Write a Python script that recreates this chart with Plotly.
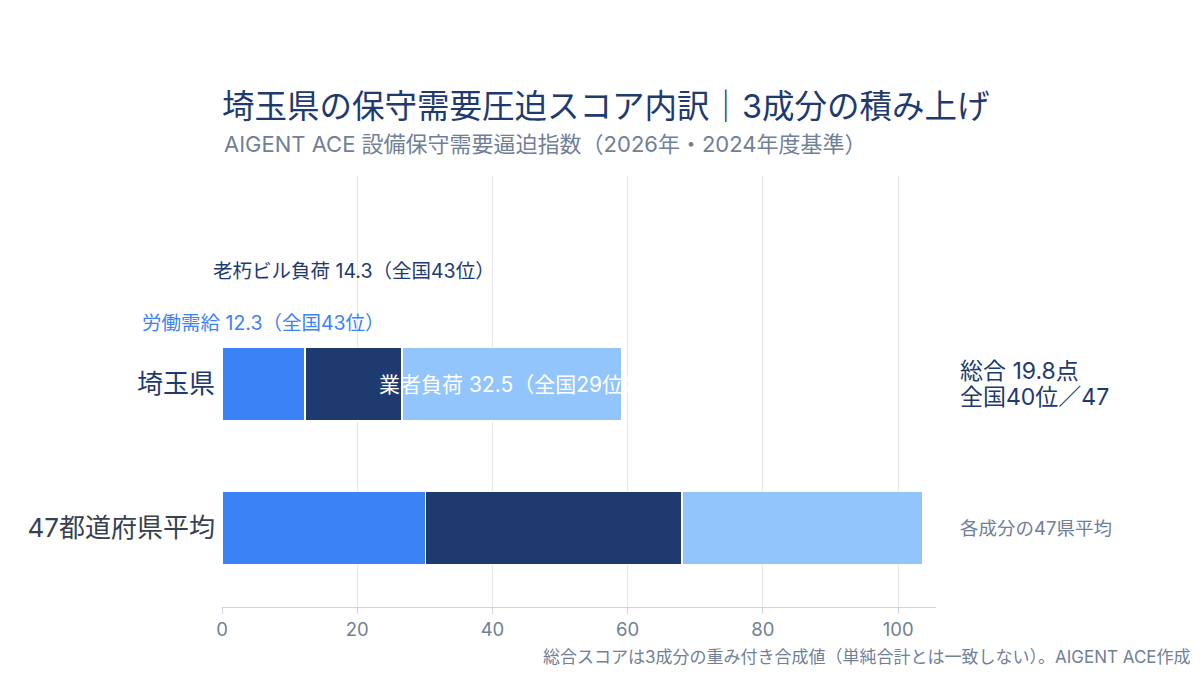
import plotly.graph_objects as go

categories = ["47都道府県平均", "埼玉県"]
labor = [30.1, 12.3]
aging = [37.9, 14.3]
vendor = [35.6, 32.5]
series_names = ["労働需給", "老朽ビル負荷", "業者負荷"]
saitama_ranks = [43, 43, 29]
total_score = 19.8
total_rank = 40
x_ticks = [0, 20, 40, 60, 80, 100]

NAVY = "#1e3a6e"
BLUE = "#3b82f6"
LIGHT = "#93c5fd"
GRAY = "#718096"
FONT = "Inter, 'Noto Sans CJK JP', sans-serif"

# plot-area pixel geometry
PA_X0, PA_X1 = 222, 936
PA_Y1, PA_Y0 = 176, 607

def px_x(px):
    return (px - PA_X0) / (PA_X1 - PA_X0)

def px_y(py):
    return (PA_Y0 - py) / (PA_Y0 - PA_Y1)

fig = go.Figure()
for name, vals, col in zip(series_names, [labor, aging, vendor], [BLUE, NAVY, LIGHT]):
    fig.add_trace(go.Bar(
        y=[0, 1], x=vals, orientation="h", name=name,
        marker=dict(color=col, line=dict(color="white", width=1.5)),
        width=0.51, hoverinfo="skip",
    ))

s = [labor[1], aging[1], vendor[1]]
centers = [s[0] / 2, s[0] + s[1] / 2, s[0] + s[1] + s[2] / 2]
label_cols = [BLUE, NAVY, "white"]
label_sizes = [19.5, 19.5, 21]
yshift = [61, 113, 0]
for i in range(3):
    fig.add_annotation(
        x=centers[i], y=1, xref="x", yref="y",
        text=f"{series_names[i]} {s[i]}（全国{saitama_ranks[i]}位）",
        showarrow=False, yshift=yshift[i],
        font=dict(size=label_sizes[i], color=label_cols[i], family=FONT),
        xanchor="center", yanchor="middle",
    )

fig.add_annotation(
    x=px_x(958), y=1, xref="paper", yref="y", yshift=13,
    text=f"総合 {total_score}点",
    showarrow=False, xanchor="left", yanchor="middle", align="left",
    font=dict(size=23, color=NAVY, family=FONT),
)
fig.add_annotation(
    x=px_x(958), y=1, xref="paper", yref="y", yshift=-13,
    text=f"全国{total_rank}位／47",
    showarrow=False, xanchor="left", yanchor="middle", align="left",
    font=dict(size=23, color=NAVY, family=FONT),
)
fig.add_annotation(
    x=px_x(958), y=0, xref="paper", yref="y",
    text="各成分の47県平均",
    showarrow=False, xanchor="left", yanchor="middle", align="left",
    font=dict(size=18.5, color=GRAY, family=FONT),
)
fig.add_annotation(
    x=px_x(222), y=px_y(144), xref="paper", yref="paper",
    text="AIGENT ACE 設備保守需要逼迫指数（2026年・2024年度基準）",
    showarrow=False, xanchor="left", yanchor="middle",
    font=dict(size=22, color=GRAY, family=FONT),
)
fig.add_annotation(
    x=px_x(1193), y=px_y(657), xref="paper", yref="paper",
    text="総合スコアは3成分の重み付き合成値（単純合計とは一致しない）。AIGENT ACE作成",
    showarrow=False, xanchor="right", yanchor="middle",
    font=dict(size=17, color=GRAY, family=FONT),
)

fig.update_layout(
    barmode="stack",
    width=1200, height=675,
    paper_bgcolor="white", plot_bgcolor="white",
    showlegend=False,
    margin=dict(l=PA_X0, r=1200 - PA_X1, t=PA_Y1, b=675 - PA_Y0),
    title=dict(
        text="埼玉県の保守需要圧迫スコア内訳｜3成分の積み上げ",
        x=PA_X0 / 1200, xanchor="left", y=1 - 107 / 675, yanchor="middle",
        font=dict(size=32.5, color=NAVY, family=FONT),
    ),
    font=dict(family=FONT),
    xaxis=dict(
        range=[0, 105.6], tickvals=x_ticks, showgrid=True, gridcolor="#e5e7eb",
        zeroline=False, showline=True, linecolor="#cbd5e1", ticks="outside",
        tickcolor="#cbd5e1", ticklen=6,
        tickfont=dict(size=18.5, color=GRAY, family=FONT),
    ),
    yaxis=dict(
        range=[-0.55, 2.45], tickvals=[0, 1],
        ticktext=[f"<span style='color:#374151'>{categories[0]}</span>",
                  f"<span style='color:{NAVY}'>{categories[1]}</span>"],
        tickfont=dict(size=26, family=FONT), showgrid=False, zeroline=False,
        ticks="", ticklabelstandoff=6,
    ),
)

fig.write_html("out.html")
